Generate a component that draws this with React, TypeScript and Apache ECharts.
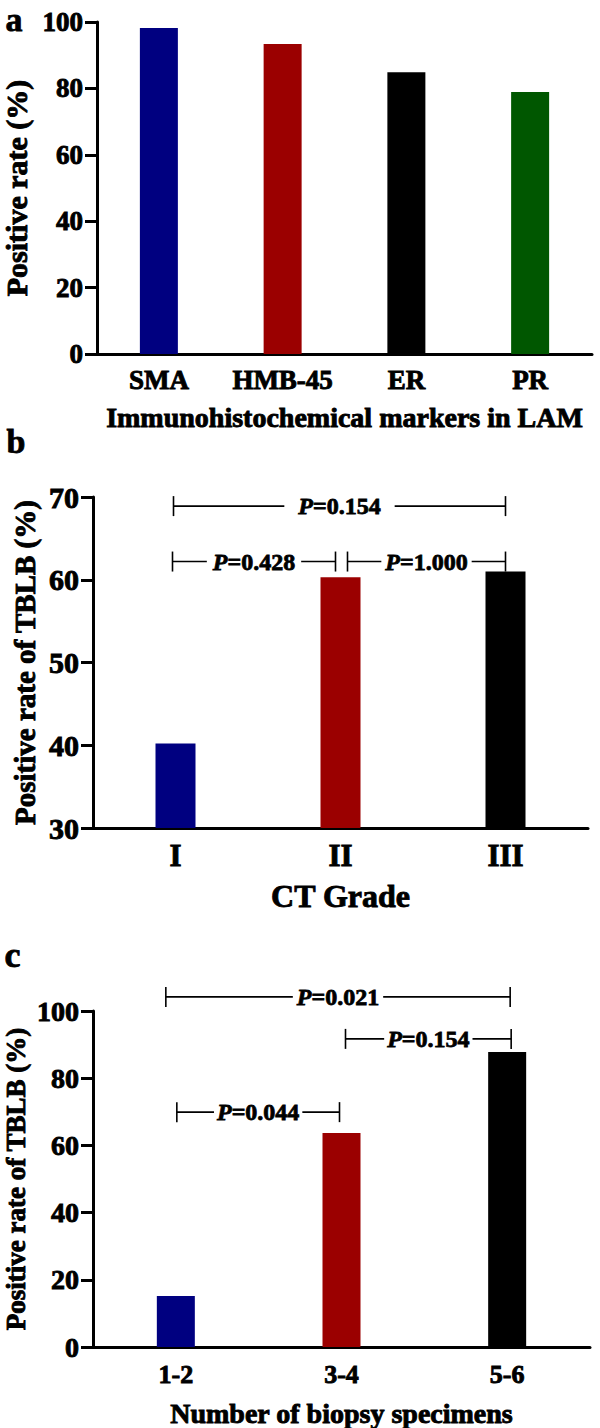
import React, { useEffect, useRef } from "react";
import * as echarts from "echarts";

// ---------- Panel a ----------
const markersA = ["SMA", "HMB-45", "ER", "PR"];
const valuesA = [98.2, 93.4, 84.9, 78.9];
const colorsA = ["#000080", "#9b0000", "#000000", "#005700"];

// ---------- Panel b ----------
const gradesB = ["I", "II", "III"];
const valuesB = [40.2, 60.3, 61.0];
const colorsB = ["#000080", "#9b0000", "#000000"];
const bracketsB = [
  { from: 0, to: 2, y: 68.9, p: "0.154" },
  { from: 0, to: 1, y: 62.2, p: "0.428" },
  { from: 1, to: 2, y: 62.2, p: "1.000" },
];
const bracketShiftB = [[-2, 0], [-3, -5], [7, 0]];
const bracketPadB = [14, 6, 4];

// ---------- Panel c ----------
const specimensC = ["1-2", "3-4", "5-6"];
const valuesC = [15.2, 63.7, 87.8];
const colorsC = ["#000080", "#9b0000", "#000000"];
const bracketsC = [
  { from: 0, to: 2, y: 104.2, p: "0.021" },
  { from: 1, to: 2, y: 91.7, p: "0.154" },
  { from: 0, to: 1, y: 69.9, p: "0.044" },
];
const bracketShiftC = [[-10, 3], [4, 4], [1, -2]];
const bracketPadC = [4, 3, 3];

const FONT = "'Liberation Serif', 'Times New Roman', serif";
const heavy = { fontFamily: FONT, fontWeight: "bold", color: "#000", textBorderColor: "#000", textBorderWidth: 0.9 };

function bracketSeries(
  xIdx: number,
  brackets: { from: number; to: number; y: number; p: string }[],
  shifts: number[][],
  pads: number[],
  fontSize: number
) {
  return {
    type: "custom",
    xAxisIndex: xIdx,
    yAxisIndex: xIdx,
    clip: false,
    silent: true,
    z: 10,
    data: brackets.map((b) => [b.from, b.y]),
    encode: { x: 0, y: 1 },
    renderItem: (params: any, api: any) => {
      const i = params.dataIndex;
      const b = brackets[i];
      const p1 = api.coord([b.from, b.y]);
      const p2 = api.coord([b.to, b.y]);
      const x1 = p1[0] + shifts[i][0];
      const x2 = p2[0] + shifts[i][1];
      const y = p1[1];
      const ls = { stroke: "#000", lineWidth: 1.6 };
      const base = { fontFamily: FONT, fontWeight: "bold", fontSize, fill: "#000", stroke: "#000", lineWidth: 0.8 };
      return {
        type: "group",
        children: [
          { type: "line", shape: { x1, y1: y, x2, y2: y }, style: ls },
          { type: "line", shape: { x1, y1: y - 10, x2: x1, y2: y + 10 }, style: ls },
          { type: "line", shape: { x1: x2, y1: y - 10, x2, y2: y + 10 }, style: ls },
          {
            type: "text",
            x: (x1 + x2) / 2,
            y,
            z2: 5,
            style: {
              text: `{i|P}{n|=${b.p}}`,
              align: "center",
              verticalAlign: "middle",
              backgroundColor: "#fff",
              padding: [0, pads[i]],
              rich: {
                i: { ...base, fontStyle: "italic" },
                n: { ...base },
              },
            },
          },
        ],
      };
    },
  };
}

function xAxisCfg(idx: number, cats: string[], name: string, labelSize: number, nameSize: number, nameGap: number, margin: number) {
  return {
    type: "category",
    gridIndex: idx,
    data: cats,
    name,
    nameLocation: "middle",
    nameGap,
    nameMoveOverlap: false,
    nameTextStyle: { ...heavy, fontSize: nameSize },
    axisLine: { lineStyle: { color: "#000", width: 3 } },
    axisTick: { alignWithLabel: true, length: 9, lineStyle: { color: "#000", width: 3 } },
    axisLabel: { ...heavy, fontSize: labelSize, margin, interval: 0 },
    splitLine: { show: false },
  };
}

function yAxisCfg(idx: number, min: number, max: number, interval: number, name: string, labelSize: number, nameSize: number, nameGap: number) {
  return {
    type: "value",
    gridIndex: idx,
    min,
    max,
    interval,
    name,
    nameLocation: "middle",
    nameGap,
    nameMoveOverlap: false,
    nameTextStyle: { ...heavy, fontSize: nameSize },
    axisLine: { show: true, lineStyle: { color: "#000", width: 3 } },
    axisTick: { show: true, length: 12, lineStyle: { color: "#000", width: 3 } },
    axisLabel: { ...heavy, fontSize: labelSize, margin: 14 },
    splitLine: { show: false },
  };
}

function barSeries(idx: number, values: number[], colors: string[], width: number) {
  return {
    type: "bar",
    xAxisIndex: idx,
    yAxisIndex: idx,
    barWidth: width,
    data: values.map((v, i) => ({ value: v, itemStyle: { color: colors[i] } })),
  };
}

const letterStyle = { fontFamily: FONT, fontWeight: "bold", fill: "#000", stroke: "#000", lineWidth: 0.8 };

export default function App() {
  const ref = useRef<HTMLDivElement>(null);
  useEffect(() => {
    document.body.style.margin = "0";
    const chart = echarts.init(ref.current!, null, { renderer: "svg" });
    chart.setOption({
      animation: false,
      backgroundColor: "#fff",
      grid: [
        { left: 97, top: 22, width: 495, height: 332, outerBoundsMode: "none", containLabel: false },
        { left: 93, top: 497, width: 495, height: 331, outerBoundsMode: "none", containLabel: false },
        { left: 93, top: 1011, width: 497, height: 336, outerBoundsMode: "none", containLabel: false },
      ],
      xAxis: [
        xAxisCfg(0, markersA, "Immunohistochemical markers in LAM", 27, 28, 49, 12),
        xAxisCfg(1, gradesB, "CT Grade", 31, 32, 52, 12),
        xAxisCfg(2, specimensC, "Number of biopsy specimens", 26, 28, 52, 14),
      ],
      yAxis: [
        yAxisCfg(0, 0, 100, 20, "Positive rate (%)", 27, 30, 66),
        yAxisCfg(1, 30, 70, 10, "Positive rate of TBLB (%)", 30, 29, 54),
        yAxisCfg(2, 0, 100, 20, "Positive rate of TBLB (%)", 28, 27, 64),
      ],
      series: [
        barSeries(0, valuesA, colorsA, 38),
        barSeries(1, valuesB, colorsB, 40),
        barSeries(2, valuesC, colorsC, 38),
        bracketSeries(1, bracketsB, bracketShiftB, bracketPadB, 24),
        bracketSeries(2, bracketsC, bracketShiftC, bracketPadC, 24),
      ],
      graphic: [
        { type: "text", left: 5, top: 2, style: { ...letterStyle, text: "a", fontSize: 34 } },
        { type: "text", left: 6, top: 424, style: { ...letterStyle, text: "b", fontSize: 34 } },
        { type: "text", left: 4, top: 937, style: { ...letterStyle, text: "c", fontSize: 36 } },
      ],
    });
    return () => chart.dispose();
  }, []);
  return (
    <div
      ref={ref}
      style={{ position: "absolute", left: 0, top: 0, width: 600, height: 1428, background: "#fff" }}
    />
  );
}
